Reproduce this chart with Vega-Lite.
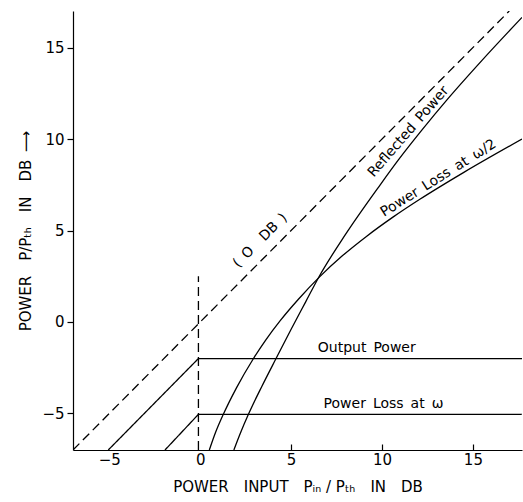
{
  "$schema": "https://vega.github.io/schema/vega-lite/v6.json",
  "width": 449,
  "height": 439,
  "autosize": "none",
  "padding": {"left": 73, "top": 11, "right": 1, "bottom": 52},
  "background": "white",
  "config": {
    "view": {"stroke": null},
    "font": "DejaVu Sans",
    "axis": {"grid": false, "domainColor": "black", "tickColor": "black", "labelColor": "black", "titleColor": "black", "labelFont": "DejaVu Sans", "titleFont": "DejaVu Sans", "labelFontSize": 15, "titleFontSize": 15, "titleFontWeight": "normal", "domainWidth": 1.2, "tickWidth": 1.2}
  },
  "datasets": {
    "straight": [
      {"s": "output", "st": "solid", "i": 1, "x": -5.06, "y": -7},
      {"s": "output", "st": "solid", "i": 2, "x": -0.1, "y": -2.0},
      {"s": "output", "st": "solid", "i": 3, "x": 17.7, "y": -2.0},
      {"s": "lossw", "st": "solid", "i": 1, "x": -1.94, "y": -7},
      {"s": "lossw", "st": "solid", "i": 2, "x": -0.1, "y": -5.05},
      {"s": "lossw", "st": "solid", "i": 3, "x": 17.7, "y": -5.05},
      {"s": "zerodb", "st": "dash", "i": 1, "x": -7, "y": -7},
      {"s": "zerodb", "st": "dash", "i": 2, "x": 17, "y": 17},
      {"s": "thresh", "st": "dash", "i": 1, "x": -0.1, "y": -7},
      {"s": "thresh", "st": "dash", "i": 2, "x": -0.1, "y": 2.5}
    ],
    "curves": [
      {"s": "refl", "x": 1.85, "y": -7},
      {"s": "refl", "x": 2.2, "y": -6.1},
      {"s": "refl", "x": 2.65, "y": -5.05},
      {"s": "refl", "x": 3.4, "y": -3.5},
      {"s": "refl", "x": 4.17, "y": -2.0},
      {"s": "refl", "x": 5.0, "y": -0.4},
      {"s": "refl", "x": 5.8, "y": 1.1},
      {"s": "refl", "x": 6.55, "y": 2.5},
      {"s": "refl", "x": 8.0, "y": 4.8},
      {"s": "refl", "x": 9.9, "y": 7.5},
      {"s": "refl", "x": 10.9, "y": 8.86},
      {"s": "refl", "x": 12.2, "y": 10.5},
      {"s": "refl", "x": 13.57, "y": 12.14},
      {"s": "refl", "x": 15.5, "y": 14.3},
      {"s": "refl", "x": 17.7, "y": 16.65},
      {"s": "lossw2", "x": 0.5, "y": -7},
      {"s": "lossw2", "x": 0.85, "y": -6.02},
      {"s": "lossw2", "x": 1.27, "y": -5.05},
      {"s": "lossw2", "x": 2.0, "y": -3.59},
      {"s": "lossw2", "x": 2.92, "y": -2.01},
      {"s": "lossw2", "x": 3.6, "y": -0.99},
      {"s": "lossw2", "x": 4.4, "y": 0.07},
      {"s": "lossw2", "x": 5.4, "y": 1.24},
      {"s": "lossw2", "x": 6.55, "y": 2.45},
      {"s": "lossw2", "x": 7.8, "y": 3.6},
      {"s": "lossw2", "x": 9.16, "y": 4.69},
      {"s": "lossw2", "x": 10.6, "y": 5.73},
      {"s": "lossw2", "x": 12.1, "y": 6.72},
      {"s": "lossw2", "x": 14.5, "y": 8.18},
      {"s": "lossw2", "x": 17.7, "y": 10.0}
    ],
    "labels": [
      {"t": "(\u2002O\u2002\u2002DB\u2002)", "x": 3.3, "y": 4.45, "a": -45},
      {"t": "Reflected\u2002Power", "x": 11.45, "y": 10.4, "a": -49},
      {"t": "Power\u2002Loss\u2002at\u2002ω/2", "x": 13.1, "y": 7.85, "a": -32},
      {"t": "Output\u2002Power", "x": 9.16, "y": -1.45, "a": 0},
      {"t": "Power\u2002Loss\u2002at\u2002ω", "x": 10.08, "y": -4.5, "a": 0}
    ]
  },
  "layer": [
    {
      "data": {"name": "straight"},
      "mark": {"type": "line", "color": "black", "strokeWidth": 1.3, "clip": true},
      "encoding": {
        "x": {"field": "x", "type": "quantitative", "scale": {"domain": [-7, 17.7], "nice": false, "zero": false},
          "axis": {"values": [-5, 0, 5, 10, 15], "tickSize": -6, "labelPadding": 8, "title": "POWER\u2003INPUT\u2003Pᵢₙ / Pₜₕ\u2003IN\u2003DB", "titlePadding": 12,
            "tickColor": {"condition": {"test": "datum.value < 1", "value": "transparent"}, "value": "black"}}},
        "y": {"field": "y", "type": "quantitative", "scale": {"domain": [-7, 17], "nice": false, "zero": false},
          "axis": {"values": [-5, 0, 5, 10, 15], "tickSize": 6, "labelPadding": 3, "title": "POWER\u2003P/Pₜₕ\u2003IN\u2003DB\u2002⟶", "titlePadding": 8}},
        "detail": {"field": "s"},
        "order": {"field": "i"},
        "strokeDash": {"field": "st", "type": "nominal", "scale": {"domain": ["solid", "dash"], "range": [[1, 0], [9, 5]]}, "legend": null}
      }
    },
    {
      "data": {"name": "curves"},
      "mark": {"type": "line", "color": "black", "strokeWidth": 1.3, "clip": true, "interpolate": "monotone"},
      "encoding": {
        "x": {"field": "x", "type": "quantitative"},
        "y": {"field": "y", "type": "quantitative"},
        "detail": {"field": "s"}
      }
    },
    {
      "data": {"name": "labels"},
      "mark": {"type": "text", "font": "DejaVu Sans", "fontSize": 14, "color": "black", "align": "center", "baseline": "middle"},
      "encoding": {
        "x": {"field": "x", "type": "quantitative"},
        "y": {"field": "y", "type": "quantitative"},
        "text": {"field": "t"},
        "angle": {"field": "a", "type": "quantitative", "scale": null}
      }
    }
  ]
}
